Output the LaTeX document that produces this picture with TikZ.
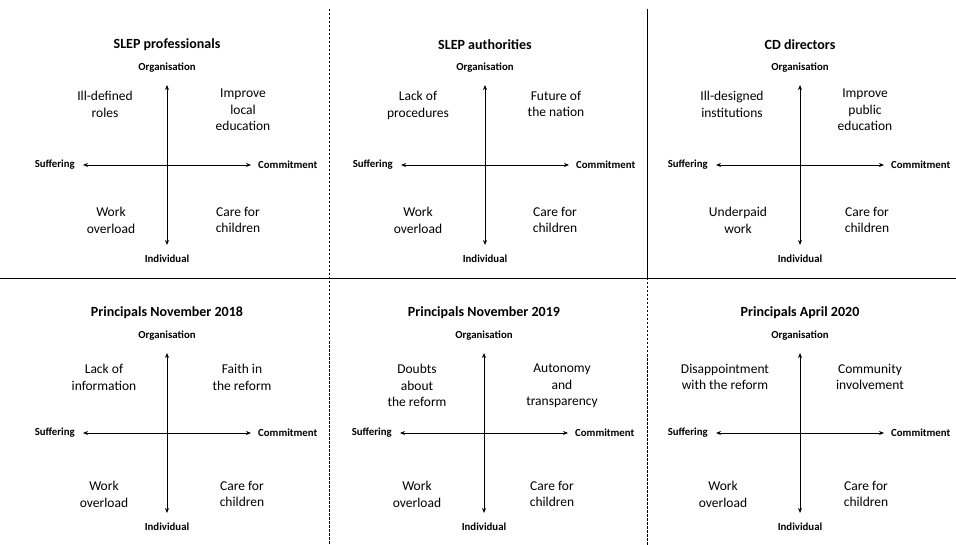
\documentclass[tikz,border=0pt]{standalone}
\usepackage{fontspec}
\setmainfont{Carlito}
\usetikzlibrary{arrows.meta}
\tikzset{
 axis/.style={{Stealth[length=5pt,width=4pt]}-{Stealth[length=5pt,width=4pt]}, line width=0.9pt},
 axlab/.style={font=\bfseries\fontsize{10.8}{12}\selectfont, inner sep=0pt},
 ttl/.style={font=\bfseries\fontsize{14}{16}\selectfont, inner sep=0pt},
 quad/.style={font=\fontsize{13.5}{16.5}\selectfont, align=center, inner sep=0pt, anchor=north},
 sepline/.style={line width=0.9pt},
 dsep/.style={line width=0.7pt, dash pattern=on 2.5pt off 1.5pt},
}
\newcommand\qpanel[4]{%
 \coordinate (#1c) at (#2,#3);
 \coordinate (#1n) at ({#2},{#3-80});
 \coordinate (#1s) at ({#2},{#3+80});
 \coordinate (#1w) at ({#2-84},{#3});
 \coordinate (#1e) at ({#2+84},{#3});
 \draw[axis] (#1n) -- (#1s);
 \draw[axis] (#1w) -- (#1e);
 \node[ttl] (#1title) at ({#2},{#3-120}) {#4};
 \node[axlab] (#1org) at ({#2},{#3-97}) {Organisation};
 \node[axlab] (#1ind) at ({#2},{#3+94}) {Individual};
 \node[axlab,anchor=east] (#1suf) at ({#2-92},{#3}) {Suffering};
 \node[axlab,anchor=west] (#1com) at ({#2+91},{#3}) {Commitment};
}
\begin{document}
\begin{tikzpicture}[x=1pt,y=-1pt]
\useasboundingbox (0,0) rectangle (956,545);
% separators
\coordinate (hl) at (0,278);
\coordinate (hr) at (956,278);
\coordinate (v1t) at (329,9);
\coordinate (v1b) at (329,545);
\coordinate (v2t) at (647,9);
\coordinate (v2m) at (647,278);
\coordinate (v2b) at (647,545);
\draw[sepline] (hl) -- (hr);
\draw[dsep] (v1t) -- (v1b);
\draw[sepline] (v2t) -- (v2m);
\draw[dsep] (v2m) -- (v2b);

% top row
\qpanel{a}{167}{165}{SLEP professionals}
\node[quad] (aul) at (105,91) {Ill-defined\\roles};
\node[quad] (aur) at (243,89) {Improve\\local\\education};
\node[quad] (all) at (111,207) {Work\\overload};
\node[quad] (alr) at (238,207) {Care for\\children};

\qpanel{b}{485}{165}{SLEP authorities}
\node[quad] (bul) at (418,91) {Lack of\\procedures};
\node[quad] (bur) at (556,91) {Future of\\the nation};
\node[quad] (bll) at (418,207) {Work\\overload};
\node[quad] (blr) at (555,207) {Care for\\children};

\qpanel{c}{800}{165}{CD directors}
\node[quad] (cul) at (732,91) {Ill-designed\\institutions};
\node[quad] (cur) at (865,89) {Improve\\public\\education};
\node[quad] (cll) at (738,207) {Underpaid\\work};
\node[quad] (clr) at (867,207) {Care for\\children};

% bottom row
\qpanel{d}{167}{433}{Principals November 2018}
\node[quad] (dul) at (104,364) {Lack of\\information};
\node[quad] (dur) at (242,364) {Faith in\\the reform};
\node[quad] (dll) at (104,481) {Work\\overload};
\node[quad] (dlr) at (242,481) {Care for\\children};

\qpanel{e}{484}{433}{Principals November 2019}
\node[quad] (eul) at (417,364) {Doubts\\about\\the reform};
\node[quad] (eur) at (562,364) {Autonomy\\and\\transparency};
\node[quad] (ell) at (417,481) {Work\\overload};
\node[quad] (elr) at (552,481) {Care for\\children};

\qpanel{f}{800}{433}{Principals April 2020}
\node[quad] (ful) at (725,364) {Disappointment\\with the reform};
\node[quad] (fur) at (870,364) {Community\\involvement};
\node[quad] (fll) at (723,481) {Work\\overload};
\node[quad] (flr) at (866,481) {Care for\\children};
\end{tikzpicture}
\end{document}
